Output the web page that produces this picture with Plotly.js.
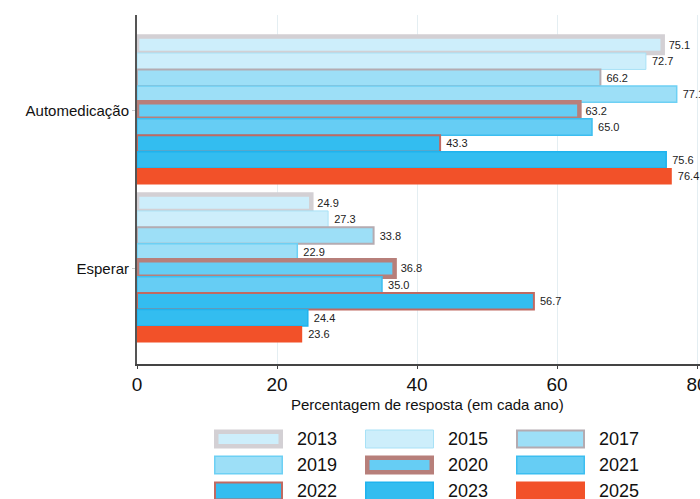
<!DOCTYPE html>
<html>
<head>
<meta charset="utf-8">
<script src="https://cdn.plot.ly/plotly-3.0.1.min.js"></script>
<style>html,body{margin:0;padding:0;background:#fff;overflow:hidden}#chart{width:700px;height:499px}</style>
</head>
<body>
<div id="chart"></div>
<script>
const categories = ['Automedicação', 'Esperar'];
const years = ['2013', '2015', '2017', '2019', '2020', '2021', '2022', '2023', '2025'];
const automedicacao = [75.1, 72.7, 66.2, 77.1, 63.2, 65.0, 43.3, 75.6, 76.4];
const esperar = [24.9, 27.3, 33.8, 22.9, 36.8, 35.0, 56.7, 24.4, 23.6];
const xTicks = [0, 20, 40, 60, 80];
const xTitle = 'Percentagem de resposta (em cada ano)';

const fillColors = ['#cdeefb', '#cdeefb', '#9ddff7', '#9ddff7', '#66cdf4', '#66cdf4', '#33bdf0', '#33bdf0', '#f25129'];
const lineColors = ['#d3d0d4', '#a8e1f6', '#b4abb1', '#6dd0f4', '#b77f7a', '#3cbef0', '#c06a62', '#1fb3ee', '#f25129'];
const lineWidths = [4.5, 1, 2, 1.5, 4.5, 1.5, 2, 1.5, 0];

const FONT = 'Liberation Sans, Arial, Helvetica, sans-serif';

const traces = years.map((yr, i) => {
  const vals = [automedicacao[i], esperar[i]];
  return {
    type: 'bar',
    orientation: 'h',
    name: yr,
    y: categories,
    x: vals,
    text: vals.map(v => '\u00a0' + v.toFixed(1)),
    textposition: 'outside',
    cliponaxis: false,
    textfont: {family: FONT, size: 11, color: '#222'},
    marker: {color: fillColors[i], line: {color: lineColors[i], width: lineWidths[i]}},
    showlegend: false,
    hoverinfo: 'x+name'
  };
});

// custom legend (3 columns) built from the series arrays
const W = 700, H = 499, mL = 137, mR = 0, mT = 15, mB = 135;
const pw = W - mL - mR, ph = H - mT - mB;
const px2x = p => (p - mL) / pw;
const py2y = p => (H - mB - p) / ph;
const colX = [214, 365, 516];
const rowY = [439, 465, 491];
const swW = 69, swH = 19;
const shapes = [];
const annotations = [];
years.forEach((yr, i) => {
  const c = i % 3, r = Math.floor(i / 3);
  const lw = lineWidths[i];
  const x0 = colX[c] + lw / 2, x1 = colX[c] + swW - lw / 2;
  const y0 = rowY[r] - swH / 2 + lw / 2, y1 = rowY[r] + swH / 2 - lw / 2;
  shapes.push({
    type: 'rect', xref: 'paper', yref: 'paper',
    x0: px2x(x0), x1: px2x(x1), y0: py2y(y1), y1: py2y(y0),
    fillcolor: fillColors[i],
    line: {color: lineColors[i], width: lw}
  });
  annotations.push({
    xref: 'paper', yref: 'paper', x: px2x(colX[c] + swW + 12), y: py2y(rowY[r]),
    xanchor: 'left', yanchor: 'middle', showarrow: false,
    text: yr, font: {family: FONT, size: 18, color: '#111'}
  });
});
// x-axis title
annotations.push({
  xref: 'paper', yref: 'paper', x: px2x(427), y: py2y(404),
  xanchor: 'center', yanchor: 'middle', showarrow: false,
  text: xTitle, font: {family: FONT, size: 15, color: '#111'}
});

const layout = {
  width: W, height: H,
  margin: {l: mL, r: mR, t: mT, b: mB},
  paper_bgcolor: '#fff', plot_bgcolor: '#fff',
  barmode: 'group', bargap: 0.063, bargroupgap: 0,
  font: {family: FONT, color: '#111'},
  xaxis: {
    range: [0, pw / 7],
    tickvals: xTicks,
    ticktext: xTicks.map(String),
    ticklabeloverflow: 'allow',
    showgrid: true, gridcolor: '#e4eef2', gridwidth: 1,
    zeroline: false,
    showline: true, linecolor: '#444', linewidth: 1.5,
    ticks: 'outside', ticklen: 3, tickcolor: '#444',
    tickfont: {family: 'Liberation Sans Narrow, Arial Narrow, ' + FONT, size: 19, color: '#111'}
  },
  yaxis: {
    type: 'category',
    range: [1.605, -0.605],
    showgrid: false, zeroline: false,
    showline: true, linecolor: '#555', linewidth: 2,
    ticks: 'outside', ticklen: 3, tickcolor: '#ccc',
    tickfont: {family: FONT, size: 15, color: '#111'}
  },
  shapes: shapes,
  annotations: annotations
};

Plotly.newPlot('chart', traces, layout, {displayModeBar: false, staticPlot: true});
</script>
</body>
</html>
